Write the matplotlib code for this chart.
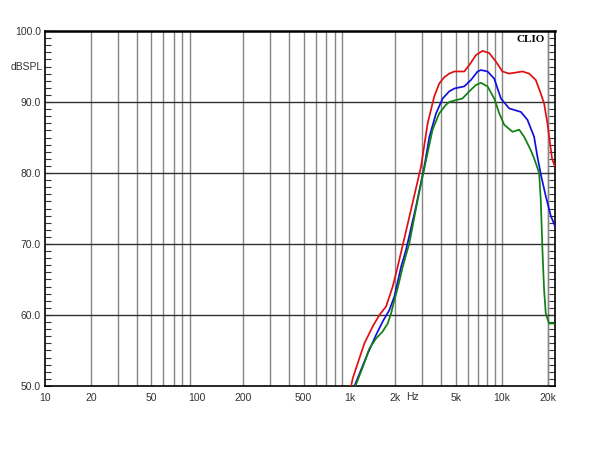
import numpy as np
import matplotlib.pyplot as plt
from matplotlib.ticker import FixedLocator, NullFormatter

# frequency response curves (Hz, dBSPL)
red_f = [1026, 1051, 1253, 1422, 1574, 1740, 1923, 2074, 2473, 2951, 3264, 3608, 3889,
         4200, 4525, 4886, 5679, 6126, 6775, 7484, 8276, 9153, 10120, 11190, 13700, 15150,
         16750, 18060, 19000, 19970, 21430, 22300]
red_db = [50.0, 51.1, 56.0, 58.4, 60.0, 61.2, 64.0, 66.8, 73.8, 80.9, 87.0, 90.8, 92.6,
          93.5, 94.0, 94.3, 94.3, 95.2, 96.6, 97.2, 96.9, 95.7, 94.3, 94.0, 94.3, 94.0,
          93.1, 91.2, 89.8, 87.0, 82.0, 81.0]

blue_f = [1079, 1193, 1320, 1496, 1655, 1829, 1972, 2184, 2355, 2738, 3103, 3350, 3706,
          4096, 4525, 4886, 5679, 6280, 6950, 7300, 8070, 8930, 9880, 11190, 13370,
          14760, 16330, 17170, 18200, 19500, 21000, 22300]
blue_db = [50.0, 52.3, 54.6, 57.2, 59.1, 60.7, 62.6, 66.8, 69.2, 75.3, 80.9, 85.1, 88.4,
           90.5, 91.5, 91.9, 92.2, 93.1, 94.3, 94.5, 94.3, 93.3, 90.5, 89.1, 88.6,
           87.5, 85.1, 82.3, 79.5, 76.7, 74.0, 72.6]

green_f = [1094, 1230, 1353, 1496, 1655, 1783, 1876, 1972, 2074, 2240, 2473, 2805, 3185,
           3515, 3889, 4300, 4525, 4886, 5530, 6126, 6775, 7300, 8070, 8930, 9640,
           10390, 11780, 13030, 14050, 15540, 16500, 17620, 18060, 18520, 19000, 19480,
           20480, 22300]
green_db = [50.0, 52.8, 55.3, 56.7, 57.7, 58.8, 60.2, 62.1, 63.8, 66.8, 70.1, 76.2, 81.8,
            86.1, 88.4, 89.6, 90.0, 90.2, 90.5, 91.5, 92.4, 92.7, 92.2, 90.5, 88.4,
            86.8, 85.8, 86.1, 85.1, 83.2, 81.8, 80.0, 76.2, 69.2, 63.5, 60.2,
            58.8, 58.8]

xticks = [10, 20, 50, 100, 200, 500, 1000, 2000, 5000, 10000, 20000]
xlabels = ['10', '20', '50', '100', '200', '500', '1k', '2k', '5k', '10k', '20k']
yticks = [50, 60, 70, 80, 90, 100]

plt.rcParams['font.family'] = ['Liberation Sans', 'DejaVu Sans']

fig = plt.figure(figsize=(6, 4.5), dpi=100)
ax = fig.add_axes([45/600, 1-386/450, 510/600, 355/450])

vgrid = [d*m for d in (10, 100, 1000, 10000) for m in range(2, 10)] + [10000, 20000]
for v in vgrid:
    ax.axvline(v, color='#858585', lw=1, zorder=1)
for h in [60, 70, 80, 90]:
    ax.axhline(h, color='#303030', lw=1, zorder=1)

for f, db, c in [(red_f, red_db, '#e01010'), (blue_f, blue_db, '#1010e0'),
                 (green_f, green_db, '#108010')]:
    ax.plot(f, db, color=c, lw=1.25, zorder=3, solid_joinstyle='round')

ax.set_xscale('log')
ax.set_xlim(10, 22400)
ax.set_ylim(50, 100)
ax.xaxis.set_major_locator(FixedLocator(xticks))
ax.xaxis.set_minor_locator(FixedLocator([]))
ax.xaxis.set_minor_formatter(NullFormatter())
ax.set_xticklabels(xlabels)
ax.set_yticks(yticks)
ax.set_yticklabels(['%.1f' % v for v in yticks])
ax.set_yticks(np.arange(50, 101, 1), minor=True)
ax.tick_params(axis='x', length=0, pad=5, labelsize=7.5, labelcolor='#333333')
ax.tick_params(axis='y', which='both', direction='in', left=True, right=True,
               length=4, width=0.8, color='#333333', labelsize=7.5,
               labelcolor='#333333', pad=3)
for s in ax.spines.values():
    s.set_linewidth(1.2)
ax.spines['top'].set_linewidth(1.8)

fig.text(27/600, 1-67/450, 'dBSPL', ha='center', va='center', fontsize=7.5, color='#333333')
fig.text(412/600, 1-397/450, 'Hz', ha='center', va='center', fontsize=7.5, color='#333333')
fig.text(531/600, 1-39/450, 'CLIO', ha='center', va='center', fontsize=8,
         fontweight='bold', family='Liberation Serif')

fig.savefig('out.png', dpi=100)
